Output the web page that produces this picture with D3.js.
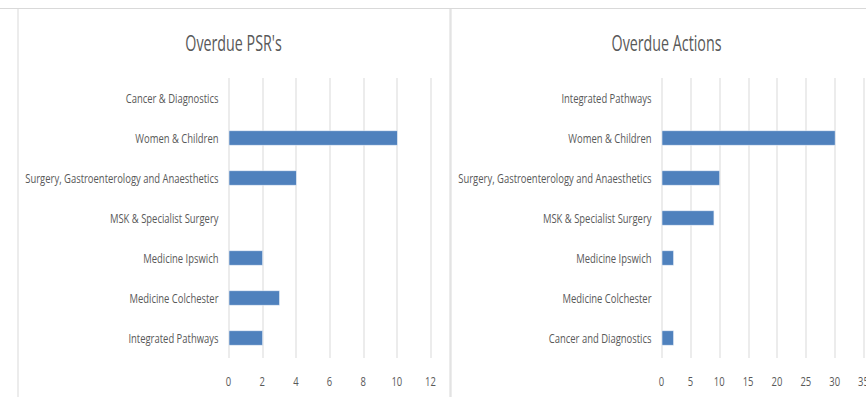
<!DOCTYPE html>
<html>
<head>
<meta charset="utf-8">
<script src="https://cdn.jsdelivr.net/npm/d3@7"></script>
<style>
	body { margin: 0; background: #fff; }
	text { font-family: "Open Sans", "DejaVu Sans", sans-serif; fill: #595959; }
	.chartTitle { font-size: 21px; }
	.catLabel { font-size: 13.5px; }
	.tickLabel { font-size: 13.5px; }
	.gridLine { stroke: #d9d9d9; stroke-width: 1; }
	.panelBorder { fill: none; stroke: #d9d9d9; stroke-width: 1; }
	.bar { fill: #4f81bd; stroke: #e8eef7; stroke-width: 0.6; }
</style>
</head>
<body>
<div id="chart"></div>
<script>
//--------------------------------- Data ---------------------------------------

var psrCategories = ["Cancer & Diagnostics", "Women & Children", "Surgery, Gastroenterology and Anaesthetics",
	"MSK & Specialist Surgery", "Medicine Ipswich", "Medicine Colchester", "Integrated Pathways"];
var psrValues = [0, 10, 4, 0, 2, 3, 2];
var psrTicks = [0, 2, 4, 6, 8, 10, 12];

var actionCategories = ["Integrated Pathways", "Women & Children", "Surgery, Gastroenterology and Anaesthetics",
	"MSK & Specialist Surgery", "Medicine Ipswich", "Medicine Colchester", "Cancer and Diagnostics"];
var actionValues = [0, 30, 10, 9, 2, 0, 2];
var actionTicks = [0, 5, 10, 15, 20, 25, 30, 35];

//--------------------------------- Set up svg ---------------------------------------

var width = 866, height = 397;
//the original uses a tall narrow font, so squeeze the text horizontally
var squeeze = 0.70;

var svg = d3.select("#chart")
	.append("svg")
	.attr("width", width)
	.attr("height", height);

//top border running across both panels
svg.append("line")
	.attr("class", "gridLine")
	.attr("x1", 0).attr("x2", width)
	.attr("y1", 8.5).attr("y2", 8.5);

function place(x, y, s) {
	return "translate(" + x + "," + y + ") scale(" + (s || squeeze) + ",1)";
}

//---------------------------------------- Draw one panel ----------------------------------------

function drawPanel(left, title, categories, values, ticks) {
	var panelW = 432;
	var g = svg.append("g")
		.attr("transform", "translate(" + left + ",0)");

	g.append("rect")
		.attr("class", "panelBorder")
		.attr("x", 0.5)
		.attr("y", 8.5)
		.attr("width", panelW)
		.attr("height", 420);

	g.append("text")
		.attr("class", "chartTitle")
		.attr("transform", place(panelW / 2, 51, 0.68))
		.style("text-anchor", "middle")
		.text(title);

	var plotLeft = 211, plotRight = 413;
	var top = 78, bottom = 358;

	var x = d3.scaleLinear()
		.domain([0, ticks[ticks.length - 1]])
		.range([plotLeft, plotRight]);

	var y = d3.scaleBand()
		.domain(categories)
		.range([top, bottom])
		.paddingInner(0.64)
		.paddingOuter(0.32);

	//gridlines
	g.selectAll(".grid")
		.data(ticks)
		.enter().append("line")
		.attr("class", "gridLine")
		.attr("x1", function(d) { return Math.round(x(d)) + 0.5; })
		.attr("x2", function(d) { return Math.round(x(d)) + 0.5; })
		.attr("y1", top)
		.attr("y2", bottom);

	//tick labels
	g.selectAll(".tickLabel")
		.data(ticks)
		.enter().append("text")
		.attr("class", "tickLabel")
		.attr("transform", function(d) { return place(x(d), 386); })
		.style("text-anchor", "middle")
		.text(function(d) { return d; });

	//category labels
	g.selectAll(".catLabel")
		.data(categories)
		.enter().append("text")
		.attr("class", "catLabel")
		.attr("transform", function(d) { return place(plotLeft - 10, y(d) + y.bandwidth() / 2); })
		.attr("dy", "0.36em")
		.style("text-anchor", "end")
		.text(function(d) { return d; });

	//bars
	g.selectAll(".bar")
		.data(values.map(function(v, i) { return {cat: categories[i], value: v}; })
			.filter(function(d) { return d.value > 0; }))
		.enter().append("rect")
		.attr("class", "bar")
		.attr("x", x(0) + 0.5)
		.attr("y", function(d) { return y(d.cat); })
		.attr("width", function(d) { return x(d.value) - x(0); })
		.attr("height", y.bandwidth());
}

drawPanel(17.5, "Overdue PSR's", psrCategories, psrValues, psrTicks);
drawPanel(450.5, "Overdue Actions", actionCategories, actionValues, actionTicks);
</script>
</body>
</html>
